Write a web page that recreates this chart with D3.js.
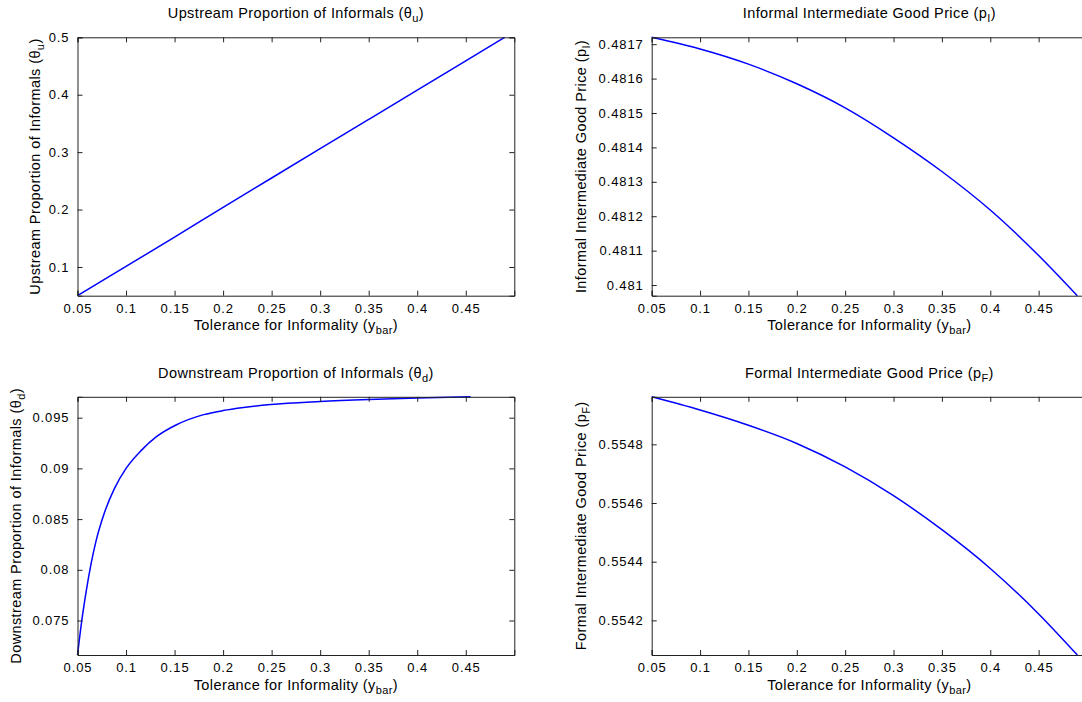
<!DOCTYPE html>
<html>
<head>
<meta charset="utf-8">
<script src="https://cdn.jsdelivr.net/npm/d3@7"></script>
<style>
    body { margin: 0; background: #fff; }
    svg { display: block; }
    text { font-family: "Liberation Sans", Arial, Helvetica, sans-serif; fill: #000; }
    .tick-label { font-size: 13px; letter-spacing: 0.9px; }
    .label { font-size: 14.5px; letter-spacing: 0.4px; }
</style>
</head>
<body>
<div id="chart"></div>
<script>
// tolerance for informality (y_bar) grid
var yBar = [0.05, 0.1, 0.15, 0.2, 0.25, 0.3, 0.35, 0.4, 0.45, 0.49];
var thetaU = [0.05, 0.101, 0.152, 0.204, 0.255, 0.306, 0.357, 0.408, 0.459, 0.5];
var priceI = [0.48172, 0.481686, 0.481642, 0.481585, 0.481515, 0.481428, 0.48133, 0.481218, 0.481086, 0.480969];
var priceF = [0.554962, 0.554917, 0.554865, 0.554803, 0.554723, 0.554625, 0.554509, 0.554377, 0.554222, 0.554082];

// downstream curve is read on a finer grid near the start
var yBarD = [0.05, 0.054, 0.059, 0.064, 0.069, 0.078, 0.088, 0.1, 0.116, 0.131, 0.152, 0.18, 0.2,
    0.221, 0.249, 0.3, 0.35, 0.4, 0.455];
var thetaD = [0.0716, 0.0747, 0.0779, 0.0806, 0.0828, 0.0857, 0.0880, 0.0900, 0.0918, 0.0931, 0.0943,
    0.0953, 0.0957, 0.0960, 0.0963, 0.0966, 0.0968, 0.09695, 0.09706];

var xLimits = [0.05, 0.5];
var xTicks = [0.05, 0.1, 0.15, 0.2, 0.25, 0.3, 0.35, 0.4, 0.45];
var thetaUTicks = [0.1, 0.2, 0.3, 0.4, 0.5];
var priceITicks = [0.481, 0.4811, 0.4812, 0.4813, 0.4814, 0.4815, 0.4816, 0.4817];
var thetaDTicks = [0.075, 0.08, 0.085, 0.09, 0.095];
var priceFTicks = [0.5542, 0.5544, 0.5546, 0.5548];

var width = 1082, height = 702;
var svg = d3.select("#chart").append("svg")
    .attr("width", width)
    .attr("height", height);

var fmt = function (v) { return String(+v.toFixed(5)); };

// writes "main (sym_sub)" with a lowered subscript
function subText(sel, main, sub) {
    sel.append("tspan").text(main);
    sel.append("tspan").attr("dy", 4).style("font-size", "11px").text(sub);
    sel.append("tspan").attr("dy", -4).text(")");
}

function drawPanel(p) {
    var x = d3.scaleLinear().domain(xLimits).range([p.left, p.right]);
    var y = d3.scaleLinear().domain(d3.extent(p.ys)).range([p.bottom, p.top]);
    var g = svg.append("g");

    // curve
    var pts = p.xs.map(function (d, i) { return [d, p.ys[i]]; });
    g.append("path")
        .datum(pts)
        .attr("fill", "none")
        .attr("stroke", "#0000ff")
        .attr("stroke-width", 1.5)
        .attr("d", d3.line()
            .x(function (d) { return x(d[0]); })
            .y(function (d) { return y(d[1]); })
            .curve(d3.curveMonotoneX));

    // box with inward ticks on all four sides
    var axB = d3.axisBottom(x).tickValues(xTicks).tickSize(-5).tickFormat(fmt).tickPadding(8);
    var axT = d3.axisTop(x).tickValues(xTicks).tickSize(-5).tickFormat("");
    var axL = d3.axisLeft(y).tickValues(p.yTicks).tickSize(-5).tickFormat(fmt).tickPadding(8);
    var axR = d3.axisRight(y).tickValues(p.yTicks).tickSize(-5).tickFormat("");

    g.append("g").attr("transform", "translate(0," + p.bottom + ")").call(axB);
    g.append("g").attr("transform", "translate(0," + p.top + ")").call(axT);
    g.append("g").attr("transform", "translate(" + p.left + ",0)").call(axL);
    g.append("g").attr("transform", "translate(" + p.right + ",0)").call(axR);

    g.selectAll(".domain").attr("stroke", "#222").attr("stroke-width", 1);
    g.selectAll(".tick line").attr("stroke", "#222");
    g.selectAll(".tick text").attr("class", "tick-label");
    g.selectAll("g").attr("font-size", null).attr("font-family", null);

    var cx = (p.left + p.right) / 2;
    var cy = (p.top + p.bottom) / 2;

    g.append("text").attr("class", "label")
        .attr("x", cx).attr("y", p.top - 19)
        .attr("text-anchor", "middle")
        .call(subText, p.title, p.sub);

    g.append("text").attr("class", "label")
        .attr("x", cx).attr("y", p.bottom + 34.5)
        .attr("text-anchor", "middle")
        .call(subText, "Tolerance for Informality (y", "bar");

    g.append("text").attr("class", "label")
        .attr("transform", "translate(" + (p.left - p.ylabOff) + "," + cy + ") rotate(-90)")
        .attr("text-anchor", "middle")
        .call(subText, p.title, p.sub);
}

var leftL = 77.5, leftR = 514.3, rightL = 651.7, rightR = 1087;
var topT = 37.3, topB = 295.7, botT = 396.8, botB = 655;

drawPanel({ xs: yBar, ys: thetaU, yTicks: thetaUTicks, left: leftL, right: leftR, top: topT, bottom: topB,
    title: "Upstream Proportion of Informals (\u03b8", sub: "u", ylabOff: 37.6 });
drawPanel({ xs: yBar, ys: priceI, yTicks: priceITicks, left: rightL, right: rightR, top: topT, bottom: topB,
    title: "Informal Intermediate Good Price (p", sub: "I", ylabOff: 65.7 });
drawPanel({ xs: yBarD, ys: thetaD, yTicks: thetaDTicks, left: leftL, right: leftR, top: botT, bottom: botB,
    title: "Downstream Proportion of Informals (\u03b8", sub: "d", ylabOff: 56.6 });
drawPanel({ xs: yBar, ys: priceF, yTicks: priceFTicks, left: rightL, right: rightR, top: botT, bottom: botB,
    title: "Formal Intermediate Good Price (p", sub: "F", ylabOff: 65.7 });
</script>
</body>
</html>
